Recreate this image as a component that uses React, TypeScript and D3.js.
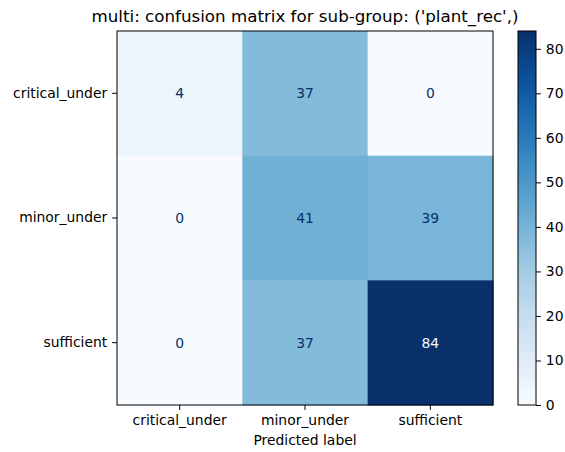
import * as d3 from "d3";
import { useEffect, useRef } from "react";

const labels = ["critical_under", "minor_under", "sufficient"];
// rows = true label, cols = predicted label
const row0 = [4, 37, 0];
const row1 = [0, 41, 39];
const row2 = [0, 37, 84];
const cbTicks = [0, 10, 20, 30, 40, 50, 60, 70, 80];

const App = () => {
  const ref = useRef<SVGSVGElement>(null);

  useEffect(() => {
    const svg = d3.select(ref.current);
    svg.selectAll("*").remove();

    const W = 565, H = 452;
    const m = { left: 117, top: 31, right: 493, bottom: 405 };
    const font = "DejaVu Sans, sans-serif";
    const matrix = [row0, row1, row2];
    const vals = matrix.flat();
    const vmin = d3.min(vals) as number;
    const vmax = d3.max(vals) as number;

    svg.append("rect").attr("width", W).attr("height", H).attr("fill", "#fff");

    const x = d3.scaleBand().domain(labels).range([m.left, m.right]);
    const y = d3.scaleBand().domain(labels).range([m.top, m.bottom]);
    const color = d3.scaleSequential(d3.interpolateBlues).domain([vmin, vmax]);

    const cells = matrix.flatMap((row, i) =>
      row.map((v, j) => ({ r: labels[i], c: labels[j], v }))
    );

    svg.append("g")
      .selectAll("rect")
      .data(cells)
      .enter()
      .append("rect")
      .attr("x", d => x(d.c)!)
      .attr("y", d => y(d.r)!)
      .attr("width", x.bandwidth() + 0.5)
      .attr("height", y.bandwidth() + 0.5)
      .attr("fill", d => color(d.v));

    const thresh = (vmin + vmax) / 2;
    svg.append("g")
      .selectAll("text")
      .data(cells)
      .enter()
      .append("text")
      .attr("x", d => x(d.c)! + x.bandwidth() / 2)
      .attr("y", d => y(d.r)! + y.bandwidth() / 2)
      .attr("dy", "0.35em")
      .attr("text-anchor", "middle")
      .style("font-family", font)
      .style("font-size", "13.9px")
      .attr("fill", d => (d.v < thresh ? "#08306b" : "#f7fbff"))
      .text(d => d.v);

    // frame
    svg.append("rect")
      .attr("x", m.left).attr("y", m.top)
      .attr("width", m.right - m.left).attr("height", m.bottom - m.top)
      .attr("fill", "none").attr("stroke", "#000").attr("stroke-width", 1);

    const xAxis = svg.append("g")
      .attr("transform", `translate(0,${m.bottom})`)
      .call(d3.axisBottom(x).tickSize(4.9).tickPadding(4.9));
    const yAxis = svg.append("g")
      .attr("transform", `translate(${m.left},0)`)
      .call(d3.axisLeft(y).tickSize(4.9).tickPadding(4.9));
    [xAxis, yAxis].forEach(a => {
      a.select(".domain").remove();
      a.selectAll("text").style("font-family", font).style("font-size", "13.9px").attr("fill", "#000");
      a.selectAll("line").attr("stroke", "#000");
    });

    svg.append("text")
      .attr("x", (m.left + m.right) / 2)
      .attr("y", 445)
      .attr("text-anchor", "middle")
      .style("font-family", font)
      .style("font-size", "13.9px")
      .text("Predicted label");

    svg.append("text")
      .attr("x", (m.left + m.right) / 2)
      .attr("y", 22)
      .attr("text-anchor", "middle")
      .style("font-family", font)
      .style("font-size", "16.7px")
      .text("multi: confusion matrix for sub-group: ('plant_rec',)");

    // colorbar
    const cb = { x: 518, w: 18 };
    const cy = d3.scaleLinear().domain([vmin, vmax]).range([m.bottom, m.top]);
    const grad = svg.append("defs").append("linearGradient")
      .attr("id", "cbgrad").attr("x1", 0).attr("y1", 1).attr("x2", 0).attr("y2", 0);
    d3.range(0, 1.0001, 0.05).forEach(t => {
      grad.append("stop").attr("offset", t).attr("stop-color", d3.interpolateBlues(t));
    });
    svg.append("rect")
      .attr("x", cb.x).attr("y", m.top)
      .attr("width", cb.w).attr("height", m.bottom - m.top)
      .attr("fill", "url(#cbgrad)")
      .attr("stroke", "#000").attr("stroke-width", 1);
    const cAxis = svg.append("g")
      .attr("transform", `translate(${cb.x + cb.w},0)`)
      .call(d3.axisRight(cy).tickValues(cbTicks).tickSize(4.9).tickPadding(4.9));
    cAxis.select(".domain").remove();
    cAxis.selectAll("text").style("font-family", font).style("font-size", "13.9px").attr("fill", "#000");
    cAxis.selectAll("line").attr("stroke", "#000");
  }, []);

  return (
    <svg
      ref={ref}
      width={565}
      height={452}
      style={{ display: "block", position: "absolute", left: 0, top: 0 }}
    ></svg>
  );
};

export default App;
